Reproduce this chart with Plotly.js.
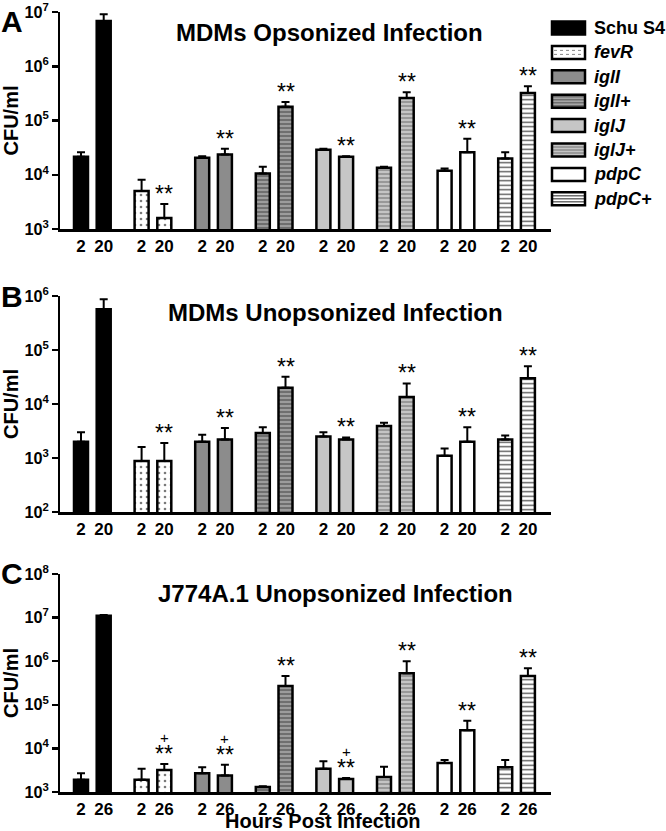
<!DOCTYPE html>
<html>
<head>
<meta charset="utf-8">
<script src="https://cdn.plot.ly/plotly-3.0.1.min.js"></script>
<style>html,body{margin:0;padding:0;background:#fff;}#chart{width:666px;height:831px;}</style>
</head>
<body>
<div id="chart"></div>
<script>
// ---------- DATA ----------
const strains = ['Schu S4', 'fevR', 'iglI', 'iglI+', 'iglJ', 'iglJ+', 'pdpC', 'pdpC+'];
const hoursAB = ['2', '20'];
const hoursC = ['2', '26'];
const panelTitles = ['MDMs Opsonized Infection', 'MDMs Unopsonized Infection', 'J774A.1 Unopsonized Infection'];
const panelLetters = ['A', 'B', 'C'];

// Panel A: MDMs opsonized (CFU/ml, mean and upper SD) at 2 h and 20 h
const meanA = [[2.15e4, 6.8e6], [5.0e3, 1.6e3], [2.05e4, 2.35e4], [1.05e4, 1.8e5], [2.9e4, 2.15e4], [1.35e4, 2.6e5], [1.18e4, 2.6e4], [2.0e4, 3.2e5]];
const errA  = [[4.5e3, 2.3e6], [3.1e3, 1.3e3], [1.5e3, 6.5e3], [3.5e3, 4.0e4], [1.0e3, 5.0e2], [5.0e2, 7.0e4], [1.2e3, 2.0e4], [6.0e3, 1.1e5]];
// Panel B: MDMs unopsonized at 2 h and 20 h
const meanB = [[2.0e3, 5.7e5], [8.8e2, 8.8e2], [2.0e3, 2.2e3], [2.9e3, 2.0e4], [2.5e3, 2.2e3], [3.9e3, 1.35e4], [1.1e3, 2.0e3], [2.2e3, 3.0e4]];
const errB  = [[1.0e3, 3.0e5], [7.2e2, 1.02e3], [7.0e2, 1.4e3], [8.0e2, 1.2e4], [5.0e2, 2.0e2], [6.0e2, 1.05e4], [4.0e2, 1.7e3], [4.0e2, 2.0e4]];
// Panel C: J774A.1 unopsonized at 2 h and 26 h
const meanC = [[1.9e3, 1.1e7], [1.9e3, 3.2e3], [2.7e3, 2.4e3], [1.3e3, 2.7e5], [3.4e3, 2.0e3], [2.2e3, 5.3e5], [4.6e3, 2.6e4], [3.7e3, 4.6e5]];
const errC  = [[8.0e2, 5.0e5], [1.5e3, 1.2e3], [1.0e3, 1.8e3], [5.0e1, 1.9e5], [1.7e3, 1.0e2], [1.6e3, 4.7e5], [8.0e2, 1.7e4], [1.7e3, 2.3e5]];

// significance marks on the late time point
const starsAB = ['', '**', '**', '**', '**', '**', '**', '**'];
const starsC  = ['', '**', '**', '**', '**', '**', '**', '**'];
const plusC   = ['', '+', '+', '', '+', '', '', ''];

// ---------- STYLE / LAYOUT ----------
const W = 666, H = 831;
const FONT = 'Liberation Sans, Arial, sans-serif';
const GROUP = 60.6, PAIR = 22.7;
const AX_L = 60, AX_R = 551, FIRST = 81;
const xp = (g, h) => g * GROUP + h * PAIR;
const px = v => v / W;
const py = v => 1 - v / H;

const barStyles = [
  {color: '#000000'},
  {color: '#ffffff', pattern: {shape: '.', bgcolor: '#ffffff', fgcolor: '#7a7a7a', size: 6, solidity: 0.15}},
  {color: '#8c8c8c'},
  {color: '#6f6f6f', pattern: {shape: '-', bgcolor: '#6f6f6f', fgcolor: '#b0b0b0', size: 4, solidity: 0.35}},
  {color: '#c6c6c6'},
  {color: '#c4c4c4', pattern: {shape: '-', bgcolor: '#c4c4c4', fgcolor: '#858585', size: 4, solidity: 0.35}},
  {color: '#ffffff'},
  {color: '#ffffff', pattern: {shape: '-', bgcolor: '#ffffff', fgcolor: '#555555', size: 4.5, solidity: 0.3}}
];

const panels = [
  {mean: meanA, err: errA, hours: hoursAB, stars: starsAB, plus: null, range: [3, 7], top: 12, bottom: 229},
  {mean: meanB, err: errB, hours: hoursAB, stars: starsAB, plus: null, range: [2, 6], top: 296, bottom: 512},
  {mean: meanC, err: errC, hours: hoursC, stars: starsC, plus: plusC, range: [3, 8], top: 574, bottom: 792}
];
const titlePos = [[329, 32], [335, 312], [336, 593]];
const letterPos = [[12, 21], [12, 296], [12, 573]];

const traces = [];
const annotations = [];
const layout = {
  width: W, height: H,
  margin: {l: 0, r: 0, t: 0, b: 0},
  paper_bgcolor: '#ffffff', plot_bgcolor: '#ffffff',
  barmode: 'overlay',
  showlegend: false,
  font: {family: FONT, color: '#000000'},
  annotations: annotations,
  shapes: []
};

panels.forEach((p, pi) => {
  const sfx = pi === 0 ? '' : String(pi + 1);
  const tickvals = [], ticktext = [];
  strains.forEach((s, g) => {
    tickvals.push(xp(g, 0), xp(g, 1));
    ticktext.push(p.hours[0], p.hours[1]);
    const st = barStyles[g];
    const marker = {color: st.color, line: {color: '#000000', width: 2.5}};
    if (st.pattern) marker.pattern = st.pattern;
    traces.push({
      type: 'bar', name: s,
      x: [xp(g, 0), xp(g, 1)],
      y: p.mean[g],
      width: 14,
      xaxis: 'x' + sfx, yaxis: 'y' + sfx,
      marker: marker,
      error_y: {type: 'data', symmetric: false, array: p.err[g], arrayminus: [0, 0],
                color: '#000000', thickness: 2, width: 4},
      hovertemplate: s + ' %{x}<br>%{y:.3s} CFU/ml<extra></extra>',
      showlegend: false
    });
    const topVal = Math.log10(p.mean[g][1] + p.err[g][1]);
    if (p.stars[g]) {
      annotations.push({xref: 'x' + sfx, yref: 'y' + sfx, x: xp(g, 1), y: topVal,
        text: p.stars[g], showarrow: false, yanchor: 'bottom', yshift: -5,
        font: {family: FONT, size: 23, color: '#000'}});
    }
    if (p.plus && p.plus[g]) {
      annotations.push({xref: 'x' + sfx, yref: 'y' + sfx, x: xp(g, 1), y: topVal,
        text: p.plus[g], showarrow: false, yanchor: 'bottom', yshift: 16,
        font: {family: FONT, size: 15, color: '#000'}});
    }
  });
  layout['xaxis' + sfx] = {
    domain: [px(AX_L), px(AX_R)], range: [AX_L - FIRST, AX_R - FIRST], anchor: 'y' + sfx,
    tickmode: 'array', tickvals: tickvals, ticktext: ticktext, ticks: '',
    showline: true, linecolor: '#000', linewidth: 2.5, showgrid: false, zeroline: false,
    tickfont: {family: FONT, size: 17, weight: 700, color: '#000'}, fixedrange: true
  };
  layout['yaxis' + sfx] = {
    domain: [py(p.bottom), py(p.top)], type: 'log', range: p.range, dtick: 1,
    exponentformat: 'power', anchor: 'x' + sfx,
    ticks: 'outside', ticklen: 6, tickwidth: 2.5, tickcolor: '#000',
    showline: true, linecolor: '#000', linewidth: 2.5, showgrid: false, zeroline: false,
    tickfont: {family: FONT, size: 13, weight: 700, color: '#000'},
    title: {text: 'CFU/ml', font: {family: FONT, size: 20, weight: 700, color: '#000'}, standoff: 4},
    fixedrange: true
  };
  annotations.push({xref: 'paper', yref: 'paper', x: px(titlePos[pi][0]), y: py(titlePos[pi][1]),
    text: '<b>' + panelTitles[pi] + '</b>', showarrow: false, xanchor: 'center', yanchor: 'middle',
    font: {family: FONT, size: 24, color: '#000'}});
  annotations.push({xref: 'paper', yref: 'paper', x: px(letterPos[pi][0]), y: py(letterPos[pi][1]),
    text: '<b>' + panelLetters[pi] + '</b>', showarrow: false, xanchor: 'center', yanchor: 'middle',
    font: {family: FONT, size: 30, color: '#000'}});
});

// x axis title (bottom panel)
annotations.push({xref: 'paper', yref: 'paper', x: px(323), y: 0,
  text: '<b>Hours Post Infection</b>', showarrow: false, xanchor: 'center', yanchor: 'bottom', yshift: -3,
  font: {family: FONT, size: 20, color: '#000'}});

// ---------- LEGEND (drawn swatches) ----------
const legendStripes = [null, {dots: '#888888'}, null, {c: '#b0b0b0'}, null, {c: '#858585'}, null, {c: '#555555'}];
strains.forEach((s, i) => {
  const yc = 28 + i * 24.4;
  const x0 = 552, x1 = 585, y0 = yc - 6.5, y1 = yc + 6.5;
  layout.shapes.push({type: 'rect', xref: 'paper', yref: 'paper', x0: px(x0), x1: px(x1), y0: py(y1), y1: py(y0),
    fillcolor: barStyles[i].color, line: {width: 0}});
  const ls = legendStripes[i];
  if (ls && ls.c) {
    [-3, 0, 3].forEach(d => layout.shapes.push({type: 'line', xref: 'paper', yref: 'paper',
      x0: px(x0 + 1), x1: px(x1 - 1), y0: py(yc + d), y1: py(yc + d), line: {color: ls.c, width: 1.3}}));
  }
  if (ls && ls.dots) {
    [-2, 2].forEach(d => layout.shapes.push({type: 'line', xref: 'paper', yref: 'paper',
      x0: px(x0 + 2), x1: px(x1 - 2), y0: py(yc + d), y1: py(yc + d), line: {color: ls.dots, width: 1, dash: 'dot'}}));
  }
  layout.shapes.push({type: 'rect', xref: 'paper', yref: 'paper', x0: px(x0), x1: px(x1), y0: py(y1), y1: py(y0),
    fillcolor: 'rgba(0,0,0,0)', line: {color: '#000', width: 2.5}});
  const label = i === 0 ? '<b>' + s + '</b>' : '<b><i>' + s + '</i></b>';
  annotations.push({xref: 'paper', yref: 'paper', x: px(592), y: py(yc), text: label, showarrow: false,
    xanchor: 'left', yanchor: 'middle', font: {family: FONT, size: 18, color: '#000'}});
});

Plotly.newPlot('chart', traces, layout, {displayModeBar: false, staticPlot: true});
</script>
</body>
</html>
